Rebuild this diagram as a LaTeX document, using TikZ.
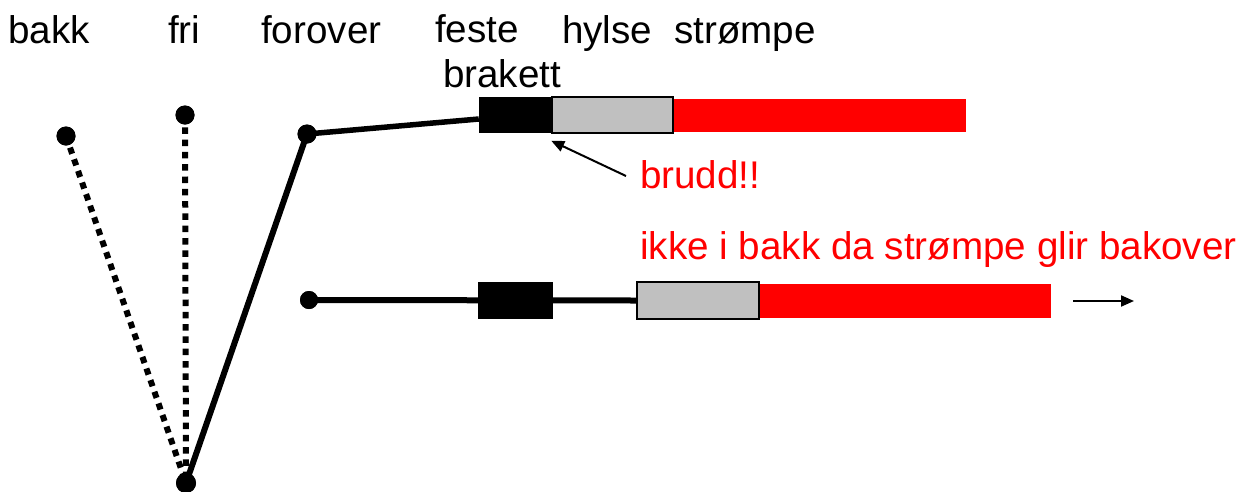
\documentclass[tikz,border=0pt]{standalone}
\usepackage{fontspec}
\setmainfont{Liberation Sans}
\usetikzlibrary{arrows.meta}
\definecolor{hylsegray}{RGB}{192,192,192}
\definecolor{pured}{RGB}{255,0,0}
\tikzset{
  lbl/.style={anchor=base west,inner sep=0pt,font=\fontsize{38.6}{44}\selectfont},
  redlbl/.style={lbl,text=pured},
  dot/.style={circle,fill=black,inner sep=0pt,minimum size=#1},
  dot/.default=19pt,
  dotted line/.style={line width=6pt,dash pattern=on 6.5pt off 5.8pt},
  solid bar/.style={line width=6pt},
  blkbox/.style={rectangle,fill=black,inner sep=0pt},
  graybox/.style={rectangle,fill=hylsegray,draw=black,line width=1.5pt,inner sep=0pt},
  redbox/.style={rectangle,fill=pured,inner sep=0pt},
  thin arrow/.style={line width=2pt,-{Triangle[length=13pt,width=11pt]}}
}
\begin{document}
\begin{tikzpicture}[x=1pt,y=-1pt]
\useasboundingbox (0,0) rectangle (1241,491);
% labels
\node[lbl] (tbakk) at (8,43) {bakk};
\node[lbl] (tfri) at (168,43) {fri};
\node[lbl] (tfor) at (261,43) {forover};
\node[lbl] (tfeste) at (435,42) {feste};
\node[lbl] (tbrak) at (443,87) {brakett};
\node[lbl] (thyl) at (562,43) {hylse};
\node[lbl] (tstr) at (674,43) {strømpe};
\node[redlbl] (tbrudd) at (640,188) {brudd!!};
\node[redlbl] (tikke) at (640,259) {ikke i bakk da strømpe glir bakover};
% lever dots
\node[dot] (pbakk) at (66,136) {};
\node[dot] (pfri) at (185,115) {};
\node[dot] (pfor) at (307,134) {};
\node[dot=20pt] (pivot) at (186,483) {};
\node[dot=18pt] (pbot) at (309,300) {};
% top assembly
\node[blkbox,minimum width=73pt,minimum height=36pt] (blk1) at (515.5,115) {};
\node[graybox,minimum width=121pt,minimum height=36pt] (gray1) at (612.5,115) {};
\node[redbox,minimum width=292pt,minimum height=33pt,anchor=west] (red1) at (gray1.east) {};
% bottom assembly
\node[graybox,minimum width=122pt,minimum height=37pt] (gray2) at (698,300.5) {};
\node[redbox,minimum width=291pt,minimum height=34pt,anchor=west] (red2) at (gray2.east) {};
% connectors
\draw[dotted line] (pbakk.center) -- (pivot.center);
\draw[dotted line] (pfri.center) -- (pivot.center);
\draw[solid bar] (pivot.center) -- (pfor.center);
\draw[line width=5.5pt] (pfor.center) -- ([yshift=-4pt]blk1.west);
\draw[line width=6pt] (pbot.center) -- (gray2.west);
\node[blkbox,minimum width=75pt,minimum height=37pt] (blk2) at (515.5,300.5) {};
% redraw dots on top
\node[dot] at (pbakk) {};
\node[dot] at (pfri) {};
\node[dot] at (pfor) {};
\node[dot=20pt] at (pivot) {};
\node[dot=18pt] at (pbot) {};
% arrows
\coordinate (bruddtail) at (626,176);
\draw[thin arrow] (bruddtail) -- ([yshift=-7pt]gray1.south west);
\coordinate (mvtail) at (1073,301);
\coordinate (mvtip) at (1134,301);
\draw[thin arrow] (mvtail) -- (mvtip);
\end{tikzpicture}
\end{document}
